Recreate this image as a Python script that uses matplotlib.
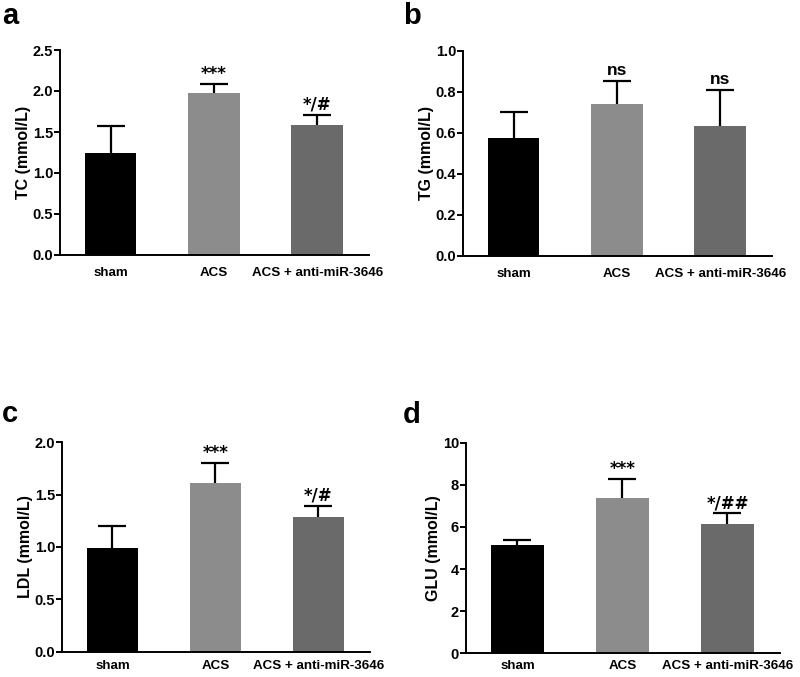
import matplotlib
matplotlib.use('Agg')
import matplotlib.pyplot as plt
import numpy as np

plt.rcParams['font.family'] = 'Liberation Sans'
plt.rcParams['font.weight'] = 'bold'

# Data (mean and upper error bar)
groups = ['sham', 'ACS', 'ACS + anti-miR-3646']
colors = ['#000000', '#8c8c8c', '#6a6a6a']

tc_mean = [1.24, 1.98, 1.58]
tc_err = [0.33, 0.11, 0.13]
tc_sig = ['', '***', '*/#']

tg_mean = [0.573, 0.738, 0.634]
tg_err = [0.128, 0.114, 0.174]
tg_sig = ['', 'ns', 'ns']

ldl_mean = [0.995, 1.613, 1.287]
ldl_err = [0.205, 0.193, 0.106]
ldl_sig = ['', '***', '*/#']

glu_mean = [5.14, 7.36, 6.14]
glu_err = [0.24, 0.92, 0.51]
glu_sig = ['', '***', '*/##']

W, H = 800, 677


def px_rect(left, right, top, bottom):
    return [left / W, 1 - bottom / H, (right - left) / W, (bottom - top) / H]


panels = [
    ('a', (2, 24), px_rect(60, 369, 50, 255), tc_mean, tc_err, tc_sig,
     'TC (mmol/L)', 2.5, [0.0, 0.5, 1.0, 1.5, 2.0, 2.5], '{:.1f}', 9),
    ('b', (403, 24), px_rect(463, 772, 50.7, 255.7), tg_mean, tg_err, tg_sig,
     'TG (mmol/L)', 1.0, [0.0, 0.2, 0.4, 0.6, 0.8, 1.0], '{:.1f}', 9),
    ('c', (2, 422), px_rect(62, 370, 442.3, 651.7), ldl_mean, ldl_err, ldl_sig,
     'LDL (mmol/L)', 2.0, [0.0, 0.5, 1.0, 1.5, 2.0], '{:.1f}', 6),
    ('d', (403, 423), px_rect(466, 780, 442.7, 653.3), glu_mean, glu_err, glu_sig,
     'GLU (mmol/L)', 10, [0, 2, 4, 6, 8, 10], '{:d}', 5),
]

fig = plt.figure(figsize=(8, 6.77), dpi=100)

for letter, lpos, pos, mean, err, sig, ylabel, ymax, yticks, fmt, xpad in panels:
    ax = fig.add_axes(pos)
    x = np.arange(len(groups))
    ax.bar(x, mean, width=0.5, color=colors, linewidth=0, zorder=2)
    _, caps, _ = ax.errorbar(x, mean, yerr=[np.zeros(len(mean)), err], fmt='none',
                             ecolor='black', elinewidth=1.6, capsize=10,
                             capthick=1.6, zorder=1)
    caps[0].set_visible(False)  # lower caps sit on the bar tops
    for xi, m, e, s in zip(x, mean, err, sig):
        if s == 'ns':
            ax.text(xi, m + e + ymax * 0.015, s, ha='center', va='bottom',
                    fontsize=12.5, fontweight='bold')
        elif s:
            ax.text(xi, m + e + ymax * 0.005, s, ha='center', va='bottom',
                    fontsize=12, fontweight='bold', family='DejaVu Sans')

    ax.set_xlim(-0.49, 2.5)
    ax.set_ylim(0, ymax)
    ax.set_yticks(yticks)
    ax.set_yticklabels([fmt.format(t) for t in yticks])
    ax.set_xticks(x)
    ax.set_xticklabels(groups)
    ax.set_ylabel(ylabel, fontsize=11.5, fontweight='bold', labelpad=1)

    ax.spines['top'].set_visible(False)
    ax.spines['right'].set_visible(False)
    ax.spines['left'].set_linewidth(1.4)
    ax.spines['bottom'].set_linewidth(1.4)
    ax.tick_params(axis='y', direction='out', length=4, width=1.4, labelsize=10.5, pad=1)
    ax.tick_params(axis='x', length=0, labelsize=9.6, pad=xpad)

    fig.text(lpos[0] / W, 1 - lpos[1] / H, letter, fontsize=21, fontweight='bold',
             ha='left', va='baseline')

fig.savefig('out.png', dpi=100)
